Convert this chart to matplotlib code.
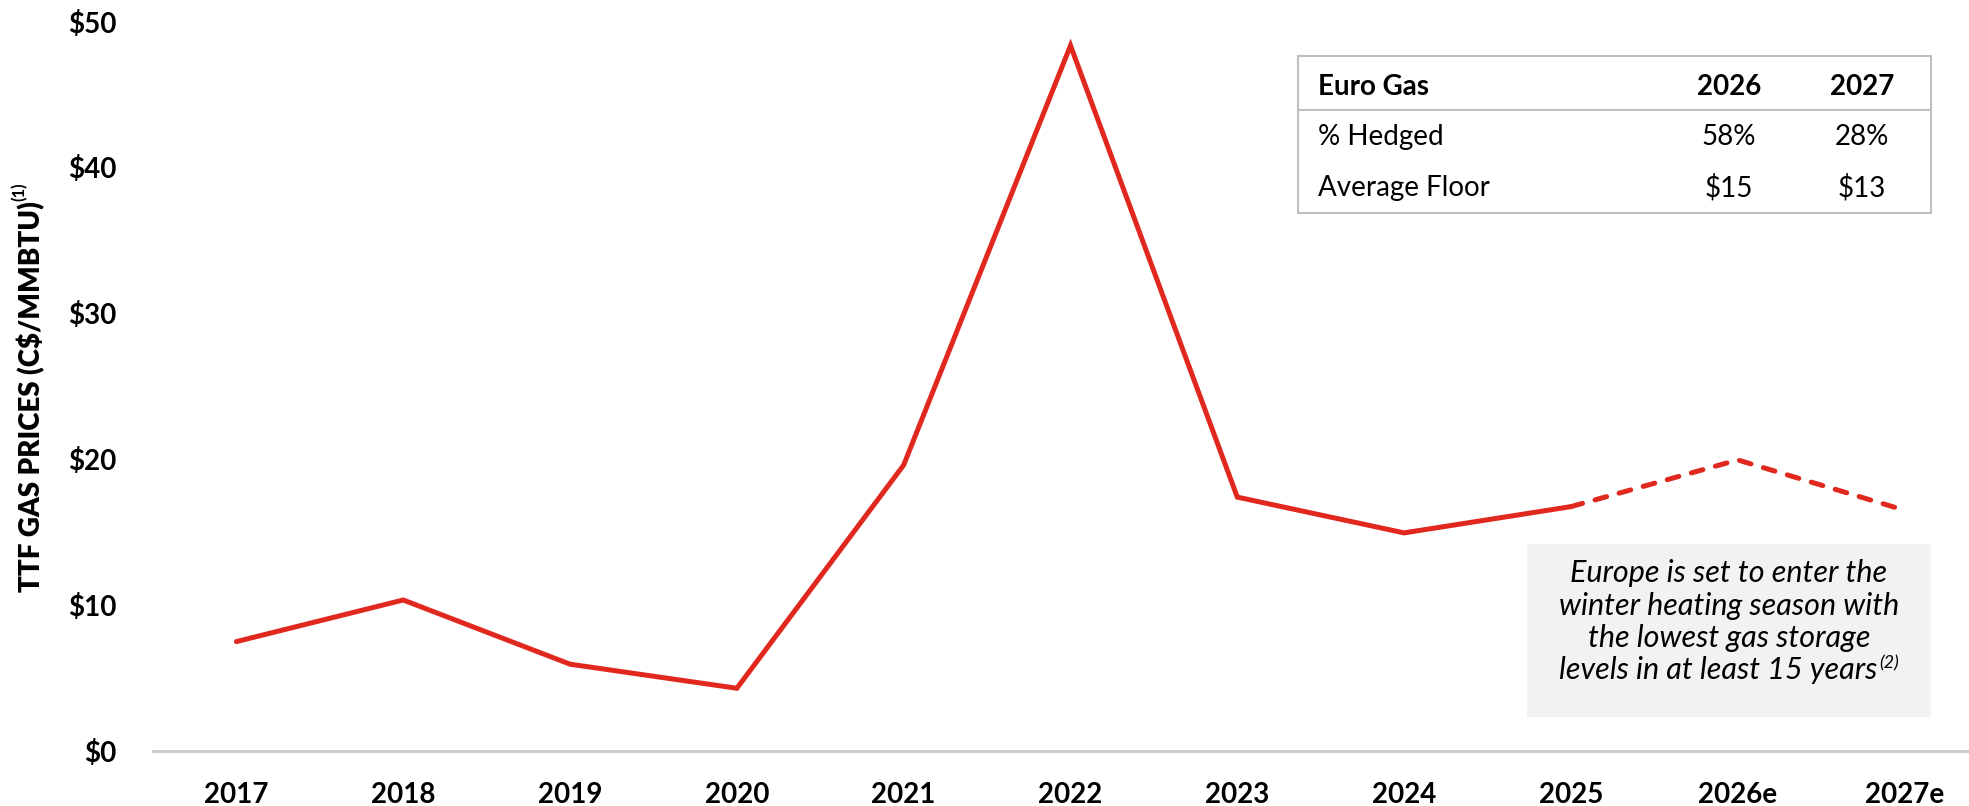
import matplotlib
matplotlib.use("Agg")
import matplotlib.pyplot as plt
from matplotlib.patches import Rectangle

# Chart data
years = ["2017", "2018", "2019", "2020", "2021", "2022", "2023", "2024", "2025", "2026e", "2027e"]
prices = [7.5, 10.35, 5.95, 4.3, 19.6, 48.35, 17.4, 14.95, 16.75, 19.95, 16.5]
n_actual = 9  # 2017-2025 solid, estimates dashed
y_ticks = [0, 10, 20, 30, 40, 50]
y_tick_labels = ["$0", "$10", "$20", "$30", "$40", "$50"]

# Hedge table
table_header = ["Euro Gas", "2026", "2027"]
table_rows = [["% Hedged", "58%", "28%"],
              ["Average Floor", "$15", "$13"]]

note_lines = ["Europe is set to enter the", "winter heating season with",
              "the lowest gas storage", "levels in at least 15 years"]
note_sup = "(2)"
y_label = "TTF GAS PRICES (C$/MMBTU)"
y_label_sup = "(1)"

RED = "#E0281E"
W, H = 1969, 806

plt.rcParams["font.family"] = ["Lato", "DejaVu Sans"]


def px(x, y):
    """pixel coords (from top-left) -> figure fraction"""
    return x / W, 1 - y / H


fig = plt.figure(figsize=(W / 100, H / 100), dpi=100)
renderer = fig.canvas.get_renderer()
ax = fig.add_axes([153 / W, 55 / H, 1835 / W, 729.5 / H])

xs = list(range(len(years)))
ax.plot(xs[:n_actual], prices[:n_actual], color=RED, lw=3.6,
        solid_joinstyle="miter", solid_capstyle="round")
ax.plot(xs[n_actual - 1:], prices[n_actual - 1:], color=RED, lw=3.6,
        linestyle=(0, (2.4, 2.6)), dash_capstyle="round")

ax.set_xlim(-0.5, 10.5)
ax.set_ylim(0, 50)
ax.set_xticks(xs)
ax.set_xticklabels(years, fontsize=20, fontweight="bold")
ax.set_yticks(y_ticks)
ax.set_yticklabels(y_tick_labels, fontsize=20, fontweight="bold")
ax.tick_params(axis="x", length=0, pad=22)
ax.tick_params(axis="y", length=0, pad=26)
for s in ["top", "right", "left"]:
    ax.spines[s].set_visible(False)
ax.spines["bottom"].set_color("#C9C9C9")
ax.spines["bottom"].set_linewidth(2)

# y label with superscript footnote marker
yl = fig.text(*px(31, 397), y_label, rotation=90,
              ha="center", va="center", fontsize=20, fontweight="heavy")
bb = yl.get_window_extent(renderer)
fig.text((bb.x0 + 3) / W, (bb.y1 + 1) / H, y_label_sup, rotation=90,
         ha="center", va="bottom", fontsize=12, fontweight="bold")

# table box
x0, y0 = px(1298, 213)
x1, y1 = px(1931, 56)
fig.add_artist(Rectangle((x0, y0), x1 - x0, y1 - y0, transform=fig.transFigure,
                         facecolor="white", edgecolor="#BFBFBF", lw=1.5))
hx0, hy = px(1298, 110)
fig.add_artist(plt.Line2D([x0, x1], [hy, hy], transform=fig.transFigure,
                          color="#BFBFBF", lw=1.5))
col_x = [1318, 1729, 1862]
row_y = [87, 137, 188]
for j, txt in enumerate(table_header):
    fig.text(*px(col_x[j], row_y[0]), txt, fontsize=20, fontweight="bold",
             ha="left" if j == 0 else "center", va="center")
for i, row in enumerate(table_rows):
    for j, txt in enumerate(row):
        fig.text(*px(col_x[j], row_y[i + 1]), txt, fontsize=20,
                 ha="left" if j == 0 else "center", va="center")

# note box
nx0, ny0 = px(1527, 717)
nx1, ny1 = px(1931, 544)
fig.add_artist(Rectangle((nx0, ny0), nx1 - nx0, ny1 - ny0, transform=fig.transFigure,
                         facecolor="#F2F2F2", edgecolor="none"))
baselines = [582, 615, 647, 679]
cx = 1729
for k, line in enumerate(note_lines):
    if k < len(note_lines) - 1:
        fig.text(*px(cx, baselines[k]), line, fontsize=22, style="italic",
                 ha="center", va="baseline")
    else:
        # measure the line and its superscript so both are centred together
        t = fig.text(0, 0, line, fontsize=22, style="italic", va="baseline")
        s = fig.text(0, 0, note_sup, fontsize=13, style="italic", va="baseline")
        wl = t.get_window_extent(renderer).width
        ws = s.get_window_extent(renderer).width
        start = cx - (wl + ws + 2) / 2
        t.set_position(px(start, baselines[k]))
        s.set_position(px(start + wl + 2, baselines[k] - 11))

fig.savefig("out.png", dpi=100)
